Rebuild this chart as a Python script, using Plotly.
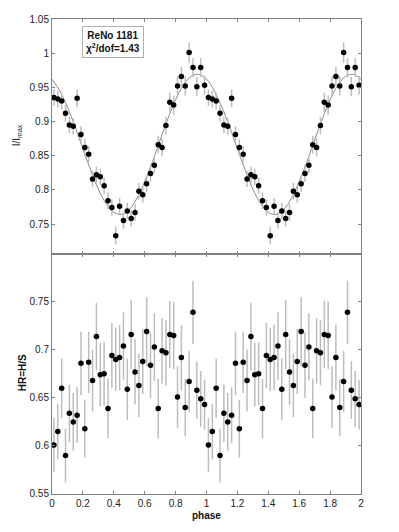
import plotly.graph_objects as go

# ---- data (one phase cycle, folded; shown twice) ----
phase = [0.0125, 0.0375, 0.0625, 0.0875, 0.1125, 0.1375, 0.1625, 0.1875, 0.2125, 0.2375,
         0.2625, 0.2875, 0.3125, 0.3375, 0.3625, 0.3875, 0.4125, 0.4375, 0.4625, 0.4875,
         0.5125, 0.5375, 0.5625, 0.5875, 0.6125, 0.6375, 0.6625, 0.6875, 0.7125, 0.7375,
         0.7625, 0.7875, 0.8125, 0.8375, 0.8625, 0.8875, 0.9125, 0.9375, 0.9625, 0.9875]

rate = [0.935, 0.933, 0.930, 0.912, 0.895, 0.893, 0.934, 0.881, 0.862, 0.852,
        0.816, 0.822, 0.819, 0.806, 0.784, 0.774, 0.733, 0.776, 0.755, 0.769,
        0.758, 0.767, 0.798, 0.793, 0.809, 0.824, 0.836, 0.866, 0.862, 0.894,
        0.928, 0.924, 0.952, 0.966, 0.952, 1.001, 0.979, 0.951, 0.979, 0.953]

rate_err = [0.012, 0.012, 0.012, 0.012, 0.012, 0.012, 0.013, 0.012, 0.012, 0.012,
            0.012, 0.012, 0.012, 0.012, 0.012, 0.012, 0.013, 0.012, 0.012, 0.012,
            0.012, 0.012, 0.012, 0.012, 0.012, 0.012, 0.012, 0.013, 0.013, 0.013,
            0.014, 0.014, 0.014, 0.014, 0.014, 0.015, 0.014, 0.014, 0.014, 0.014]

fit_phase = [0.0, 0.05, 0.1, 0.15, 0.2, 0.25, 0.3, 0.35, 0.4, 0.45, 0.5,
             0.55, 0.6, 0.65, 0.7, 0.75, 0.8, 0.85, 0.9, 0.95, 1.0]
fit_rate = [0.962, 0.945, 0.921, 0.892, 0.860, 0.829, 0.801, 0.780, 0.767, 0.764, 0.771,
            0.788, 0.812, 0.841, 0.873, 0.904, 0.932, 0.953, 0.966, 0.969, 0.962]

hr = [0.601, 0.615, 0.660, 0.590, 0.634, 0.625, 0.632, 0.686, 0.618, 0.687,
      0.668, 0.714, 0.674, 0.675, 0.639, 0.694, 0.690, 0.692, 0.704, 0.659,
      0.716, 0.677, 0.663, 0.688, 0.719, 0.684, 0.703, 0.639, 0.699, 0.697,
      0.716, 0.715, 0.651, 0.692, 0.640, 0.667, 0.739, 0.658, 0.649, 0.643]

hr_err = [0.028, 0.029, 0.031, 0.028, 0.030, 0.030, 0.029, 0.033, 0.030, 0.032,
          0.032, 0.035, 0.033, 0.033, 0.031, 0.034, 0.033, 0.034, 0.035, 0.032,
          0.036, 0.034, 0.033, 0.034, 0.036, 0.034, 0.035, 0.031, 0.034, 0.034,
          0.035, 0.035, 0.032, 0.034, 0.030, 0.032, 0.033, 0.030, 0.029, 0.026]

x_ticks = [0, 0.2, 0.4, 0.6, 0.8, 1.0, 1.2, 1.4, 1.6, 1.8, 2.0]
x_ticklabels = ["0", "0.2", "0.4", "0.6", "0.8", "1", "1.2", "1.4", "1.6", "1.8", "2"]
top_yticks = [0.75, 0.8, 0.85, 0.9, 0.95, 1.0, 1.05]
top_yticklabels = ["0.75", "0.8", "0.85", "0.9", "0.95", "1", "1.05"]
bot_yticks = [0.55, 0.6, 0.65, 0.7, 0.75]
bot_yticklabels = ["0.55", "0.6", "0.65", "0.7", "0.75"]

# ---- two cycles ----
ph2 = phase + [p + 1 for p in phase]
rate2 = rate + rate
rate_err2 = rate_err + rate_err
hr2 = hr + hr
hr_err2 = hr_err + hr_err
fit_ph2 = fit_phase + [p + 1 for p in fit_phase[1:]]
fit_rate2 = fit_rate + fit_rate[1:]

FONT = "Liberation Sans, Arial, Helvetica, sans-serif"
AX = "#808080"
EB = "#bdbdbd"

fig = go.Figure()

fig.add_trace(go.Scatter(
    x=fit_ph2, y=fit_rate2, mode="lines", line=dict(color="#8a8a8a", width=1, shape="spline"),
    xaxis="x2", yaxis="y2", hoverinfo="skip", showlegend=False))

fig.add_trace(go.Scatter(
    x=ph2, y=rate2, mode="markers",
    marker=dict(color="black", size=5.5),
    error_y=dict(type="data", array=rate_err2, color=EB, thickness=1.5, width=0),
    xaxis="x2", yaxis="y2", showlegend=False))

fig.add_trace(go.Scatter(
    x=ph2, y=hr2, mode="markers",
    marker=dict(color="black", size=5.5),
    error_y=dict(type="data", array=hr_err2, color=EB, thickness=1.5, width=0),
    xaxis="x", yaxis="y", showlegend=False))

# page body has an 8px margin; figure is sized/offset to compensate
W, H = 391, 524
ML, MR, MT, MB = 44, 38, 5, 38
PW = W - ML - MR
PH = H - MT - MB
split = (494.3 - 250.7) / (494.3 - 12.7)

common_x = dict(range=[0, 2], tickmode="array", tickvals=x_ticks, ticks="inside", ticklen=3,
                tickcolor=AX, showline=True, linecolor=AX, linewidth=1, mirror="ticks",
                showgrid=False, zeroline=False, ticklabeloverflow="allow")
common_y = dict(ticks="inside", ticklen=3, tickcolor=AX, showline=True, linecolor=AX,
                linewidth=1, mirror="ticks", showgrid=False, zeroline=False, tickmode="array",
                ticklabeloverflow="allow")

fig.update_layout(
    width=W, height=H,
    margin=dict(l=ML, r=MR, t=MT, b=MB),
    paper_bgcolor="white", plot_bgcolor="white",
    font=dict(family=FONT, size=10, color="#222"),
    xaxis=dict(**common_x, domain=[0, 1], anchor="y", ticktext=x_ticklabels),
    xaxis2=dict(**common_x, domain=[0, 1], anchor="y2", matches="x", showticklabels=False),
    yaxis=dict(**common_y, domain=[0, split], range=[0.55, 0.8], anchor="x",
               tickvals=bot_yticks, ticktext=bot_yticklabels),
    yaxis2=dict(**common_y, domain=[split, 1], range=[0.7065, 1.05], anchor="x2",
                tickvals=top_yticks, ticktext=top_yticklabels),
)

# annotation box
fig.add_annotation(
    x=0.395, y=1.017, xref="x2", yref="y2", xanchor="center", yanchor="middle",
    text="<b>ReNo 1181</b><br><b>χ<sup>2</sup>/dof=1.43</b>", showarrow=False,
    font=dict(family=FONT, size=10, color="#111"), bordercolor="#b0b0b0", borderwidth=1,
    borderpad=3, bgcolor="white", align="center")

# axis titles (positions in page pixels converted to paper coords)
def px_x(px):
    return (px - 52) / PW

def px_y(py):
    return (494.3 - py) / PH

fig.add_annotation(
    x=px_x(17), y=px_y(131), xref="paper", yref="paper",
    xanchor="center", yanchor="middle", textangle=-90, showarrow=False,
    text="I/I<sub>max</sub>", font=dict(family=FONT, size=10, color="#111"))
fig.add_annotation(
    x=px_x(22), y=px_y(372), xref="paper", yref="paper",
    xanchor="center", yanchor="middle", textangle=-90, showarrow=False,
    text="<b>HR=H/S</b>", font=dict(family=FONT, size=10, color="#111"))
fig.add_annotation(
    x=0.5, y=px_y(516), xref="paper", yref="paper",
    xanchor="center", yanchor="middle", showarrow=False,
    text="<b>phase</b>", font=dict(family=FONT, size=10, color="#111"))

fig.write_html("out.html")
